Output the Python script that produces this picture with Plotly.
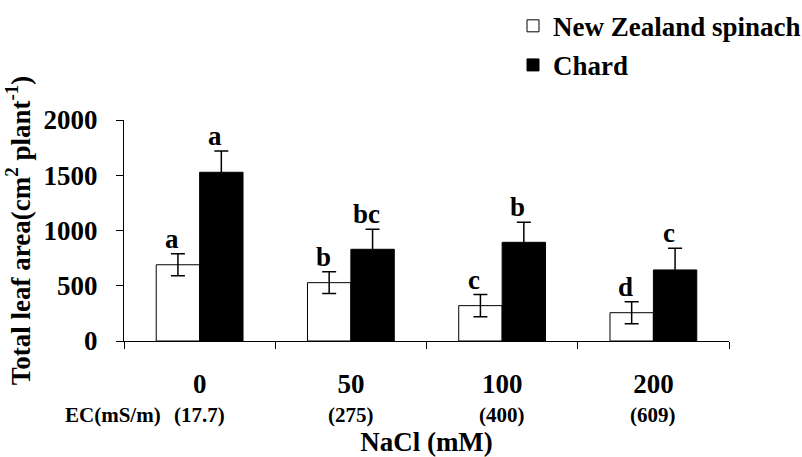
import plotly.graph_objects as go

categories = ["0", "50", "100", "200"]
ec_labels = ["(17.7)", "(275)", "(400)", "(609)"]
nz_values = [690, 528, 320, 256]
nz_err = [100, 98, 100, 100]
chard_values = [1527, 830, 893, 643]
chard_err = [192, 181, 181, 196]
nz_letters = ["a", "b", "c", "d"]
chard_letters = ["a", "bc", "b", "c"]

FONT = "Liberation Serif, Times New Roman, serif"
BIG = 27
SMALL = 21

xpos = list(range(len(categories)))
bounds = [i - 0.5 for i in range(len(categories) + 1)]

def f(size):
    return dict(family=FONT, size=size, color="black", weight="bold")

fig = go.Figure()
fig.add_trace(go.Bar(
    x=xpos, y=nz_values, name="New Zealand spinach",
    marker=dict(color="white", line=dict(color="black", width=1)),
    error_y=dict(type="data", array=nz_err, color="black", thickness=1.5, width=7),
    legendgroup="g1",
))
fig.add_trace(go.Bar(
    x=xpos, y=chard_values, name="Chard",
    marker=dict(color="black", line=dict(color="black", width=1)),
    error_y=dict(type="data", array=chard_err, color="black", thickness=1.5, width=7),
    legendgroup="g2",
))

annotations = []
half = 21.7
for i in xpos:
    annotations.append(dict(x=i, y=nz_values[i] + nz_err[i], xref="x", yref="y",
                            text=nz_letters[i], showarrow=False, xshift=-half - 6,
                            yanchor="bottom", yshift=-2, font=f(BIG)))
    annotations.append(dict(x=i, y=chard_values[i] + chard_err[i], xref="x", yref="y",
                            text=chard_letters[i], showarrow=False, xshift=half - 6,
                            yanchor="bottom", yshift=-2, font=f(BIG)))
    annotations.append(dict(x=i, y=-0.335, xref="x", yref="paper", text=ec_labels[i],
                            showarrow=False, yanchor="middle", font=f(SMALL)))
annotations.append(dict(x=0.0645, y=-0.335, xref="paper", yref="paper", text="EC(mS/m)",
                        showarrow=False, xanchor="right", yanchor="middle", font=f(SMALL)))

fig.update_layout(
    width=802, height=457,
    margin=dict(l=124, r=73, t=120, b=116, autoexpand=False),
    paper_bgcolor="white", plot_bgcolor="white",
    barmode="group", bargap=0.426, bargroupgap=0,
    font=dict(family=FONT, color="black"),
    showlegend=True,
    legend=dict(x=0.643, y=1.535, xanchor="left", yanchor="top", font=f(BIG),
                bgcolor="rgba(0,0,0,0)", tracegroupgap=1, traceorder="grouped"),
    annotations=annotations,
)
fig.update_xaxes(
    range=[bounds[0], bounds[-1]], automargin=False,
    tickmode="array", tickvals=xpos, ticktext=categories, ticks="",
    minor=dict(tickmode="array", tickvals=bounds, ticks="outside", ticklen=7,
               tickcolor="black", tickwidth=1, showgrid=False),
    showline=True, linecolor="black", linewidth=1,
    showgrid=False, zeroline=False,
    tickfont=f(BIG), ticklabelstandoff=19,
    title=dict(text="NaCl (mM)", standoff=33, font=f(BIG)),
)
fig.update_yaxes(
    range=[0, 2000], dtick=500, automargin=False,
    showline=True, linecolor="black", linewidth=1,
    ticks="outside", ticklen=7, tickcolor="black", tickwidth=1,
    showgrid=False, zeroline=False,
    tickfont=f(BIG), ticklabelstandoff=13,
    title=dict(text="Total leaf area(cm<sup>2</sup> plant<sup>-1</sup>)", standoff=5,
               font=f(BIG)),
)

fig.write_html("out.html", config={"displayModeBar": False},
               post_script="document.body.style.margin='0';")
